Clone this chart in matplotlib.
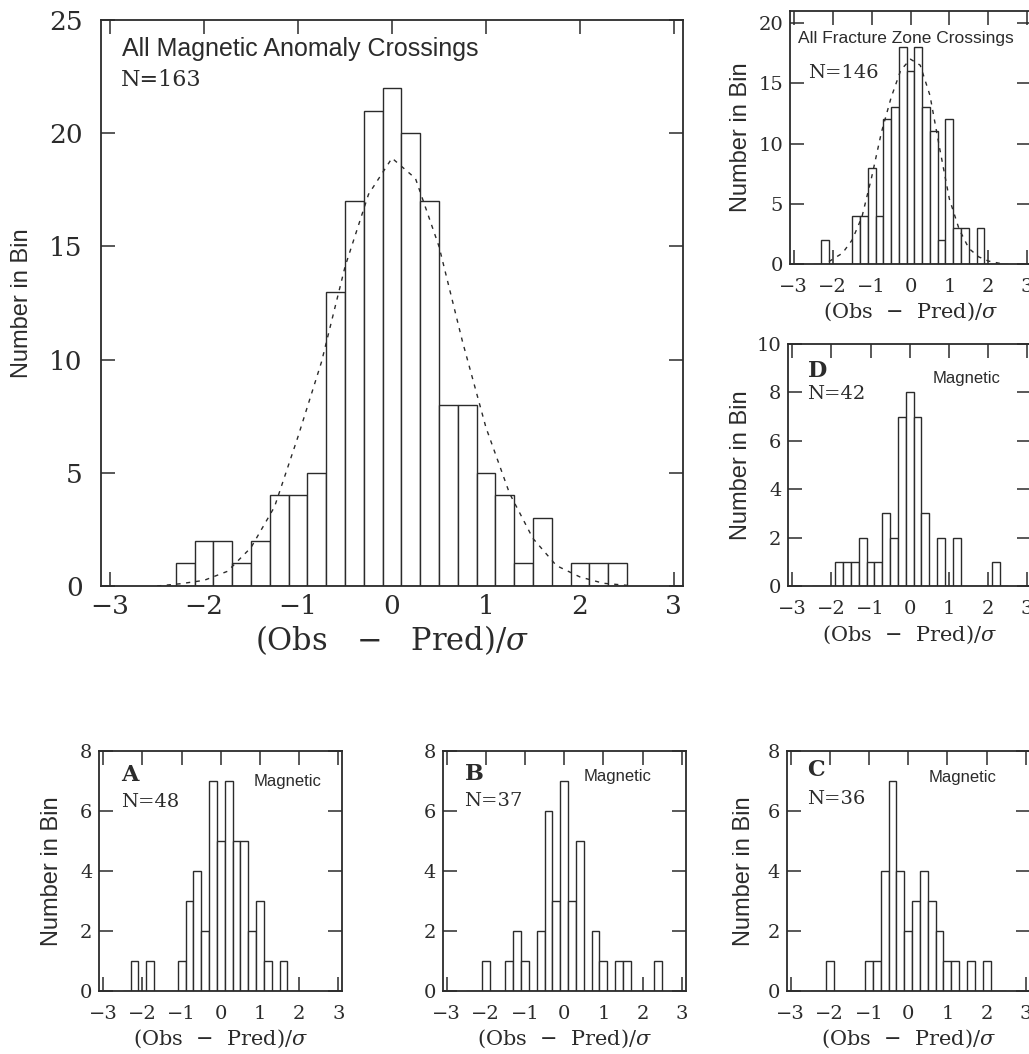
# Histograms of normalized residuals (Obs - Pred)/sigma, six panels
import matplotlib.pyplot as plt

# bin centres shared by all panels (bin width 0.2)
bin_centers = [-2.4, -2.2, -2.0, -1.8, -1.6, -1.4, -1.2, -1.0, -0.8, -0.6, -0.4, -0.2, 0.0,
               0.2, 0.4, 0.6, 0.8, 1.0, 1.2, 1.4, 1.6, 1.8, 2.0, 2.2, 2.4]

# counts per bin
all_mag = [0, 1, 2, 2, 1, 2, 4, 4, 5, 13, 17, 21, 22, 20, 17, 8, 8, 5, 4, 1, 3, 0, 1, 1, 1]
all_fz = [0, 2, 0, 0, 0, 4, 4, 8, 4, 12, 13, 18, 16, 18, 13, 11, 2, 12, 3, 3, 0, 3, 0, 0, 0]
mag_a = [0, 1, 0, 1, 0, 0, 0, 1, 3, 4, 2, 7, 5, 7, 5, 5, 2, 3, 1, 0, 1, 0, 0, 0, 0]
mag_b = [0, 0, 1, 0, 0, 1, 2, 1, 0, 2, 6, 3, 7, 3, 5, 0, 2, 1, 0, 1, 1, 0, 0, 0, 1]
mag_c = [0, 0, 1, 0, 0, 0, 0, 1, 1, 4, 7, 4, 2, 3, 4, 3, 2, 1, 1, 0, 1, 0, 1, 0, 0]
mag_d = [0, 0, 0, 1, 1, 1, 2, 1, 1, 3, 2, 7, 8, 7, 3, 0, 2, 0, 2, 0, 0, 0, 0, 1, 0]

# dashed gaussian curves
mag_curve_x = [-2.5, -2.25, -2.0, -1.75, -1.5, -1.25, -1.0, -0.75, -0.5, -0.25, 0.0,
               0.25, 0.5, 0.75, 1.0, 1.25, 1.5, 1.75, 2.0, 2.25, 2.5]
mag_curve_y = [0.0, 0.1, 0.25, 0.65, 1.7, 3.5, 6.6, 9.9, 14.1, 17.3, 18.9,
               18.0, 15.0, 10.8, 7.0, 4.1, 2.1, 0.9, 0.4, 0.12, 0.03]
fz_curve_x = [-2.1, -2.0, -1.75, -1.5, -1.25, -1.0, -0.75, -0.5, -0.25, 0.0, 0.25,
              0.5, 0.75, 1.0, 1.25, 1.5, 1.75, 2.0, 2.3]
fz_curve_y = [0.2, 0.4, 0.9, 2.0, 3.9, 7.2, 10.9, 13.8, 16.1, 17.0, 16.5,
              14.0, 9.6, 5.4, 2.9, 1.3, 0.6, 0.25, 0.05]

xticks = [-3, -2, -1, 0, 1, 2, 3]
ink = '#2b2b2b'
SANS = 'Liberation Sans'

plt.rcParams['font.family'] = 'DejaVu Serif'
plt.rcParams['mathtext.fontset'] = 'dejavuserif'

W, H = 1029, 1054
fig = plt.figure(figsize=(W / 100, H / 100), dpi=100)


def panel(left, top, right, bottom):
    return fig.add_axes([left / W, 1 - bottom / H, (right - left) / W, (bottom - top) / H])


def draw(ax, counts, ymax, yticks, big=False):
    ax.bar(bin_centers, counts, width=0.2, facecolor='white', edgecolor=ink,
           linewidth=1.0, zorder=3)
    ax.set_xlim(-3.1, 3.1)
    ax.set_ylim(0, ymax)
    ax.set_xticks(xticks)
    ax.set_yticks(yticks)
    ax.tick_params(direction='in', top=True, right=True, length=10, width=1.1,
                   color=ink, labelcolor=ink, labelsize=19 if big else 14)
    ax.tick_params(axis='x', pad=6 if big else 10)
    ax.tick_params(axis='y', pad=13 if big else 5)
    for sp in ax.spines.values():
        sp.set_linewidth(1.3)
        sp.set_color(ink)
        sp.set_zorder(4)
    if big:
        ax.set_xlabel(r'(Obs   $-$   Pred)/$\sigma$', fontsize=22, color=ink)
    else:
        ax.set_xlabel(r'(Obs  $-$  Pred)/$\sigma$', fontsize=15, color=ink)
    ax.xaxis.label.set_va('center')


def ylab(ax, xpos):
    ax.set_ylabel('Number in Bin', family=SANS, fontsize=17, color=ink)
    ax.yaxis.set_label_coords(xpos, 0.5)


# main panel
ax = panel(100.7, 20, 683.3, 586)
draw(ax, all_mag, 25, [0, 5, 10, 15, 20, 25], big=True)
ax.plot(mag_curve_x, mag_curve_y, color=ink, lw=1.0, ls=(0, (3, 4)), zorder=5)
ax.xaxis.set_label_coords(0.5, -0.095)
ylab(ax, -0.116)
ax.text(0.036, 0.936, 'All Magnetic Anomaly Crossings', transform=ax.transAxes,
        family=SANS, fontsize=18, color=ink, va='baseline')
ax.text(0.034, 0.884, 'N=163', transform=ax.transAxes, fontsize=16, color=ink, va='baseline')

# fracture zones
ax = panel(790, 11, 1031, 264)
draw(ax, all_fz, 21, [0, 5, 10, 15, 20])
ax.plot(fz_curve_x, fz_curve_y, color=ink, lw=1.0, ls=(0, (3, 4)), zorder=5)
ax.xaxis.set_label_coords(0.5, -0.19)
ylab(ax, -0.158)
ax.text(0.034, 0.872, 'All Fracture Zone Crossings', transform=ax.transAxes,
        family=SANS, fontsize=12.5, color=ink, va='baseline')
ax.text(0.076, 0.734, 'N=146', transform=ax.transAxes, fontsize=14, color=ink, va='baseline')

# small magnetic panels: (name, counts, frame, ymax, yticks, label text positions)
small = [
    ('D', mag_d, (788.3, 344, 1031, 586), 10, [0, 2, 4, 6, 8, 10], 'N=42',
     (0.082, 0.862), (0.076, 0.772), (0.594, 0.838), -0.149),
    ('A', mag_a, (99.3, 751, 342.3, 991), 8, [0, 2, 4, 6, 8], 'N=48',
     (0.088, 0.876), (0.088, 0.765), (0.637, 0.854), -0.149),
    ('B', mag_b, (442.7, 751, 685.7, 991), 8, [0, 2, 4, 6, 8], 'N=37',
     (0.092, 0.879), (0.089, 0.772), (0.581, 0.876), None),
    ('C', mag_c, (786.7, 751, 1029.7, 991), 8, [0, 2, 4, 6, 8], 'N=36',
     (0.085, 0.895), (0.085, 0.779), (0.583, 0.872), -0.13),
]
for name, counts, frame, ymax, yt, ntext, pname, pn, pmag, ylx in small:
    ax = panel(*frame)
    draw(ax, counts, ymax, yt)
    ax.xaxis.set_label_coords(0.5, -0.2)
    if ylx is not None:
        ylab(ax, ylx)
    ax.text(pname[0], pname[1], name, transform=ax.transAxes, fontsize=16,
            fontweight='bold', color=ink, va='baseline')
    ax.text(pn[0], pn[1], ntext, transform=ax.transAxes, fontsize=14, color=ink, va='baseline')
    ax.text(pmag[0], pmag[1], 'Magnetic', transform=ax.transAxes, family=SANS,
            fontsize=12, color=ink, va='baseline')

fig.savefig('out.png', dpi=100)
